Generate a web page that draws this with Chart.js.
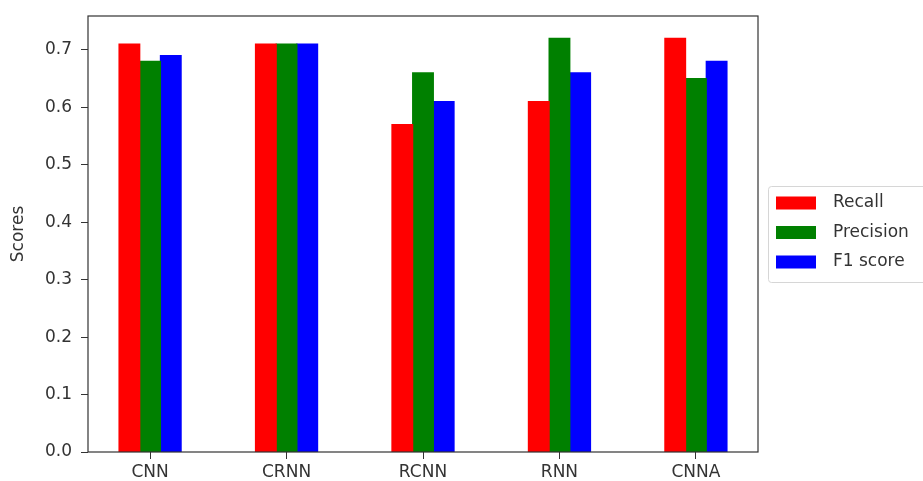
<!DOCTYPE html>
<html>
<head>
<meta charset="utf-8">
<script src="https://cdn.jsdelivr.net/npm/chart.js@4/dist/chart.umd.min.js"></script>
<style>
  html, body { margin: 0; padding: 0; background: #fff; }
  canvas { display: block; }
</style>
</head>
<body>
<canvas id="scoresChart" width="923" height="481"></canvas>
<script>
const categories = ["CNN", "CRNN", "RCNN", "RNN", "CNNA"];
const recall = [0.71, 0.71, 0.57, 0.61, 0.72];
const precision = [0.68, 0.71, 0.66, 0.72, 0.65];
const f1Score = [0.69, 0.71, 0.61, 0.66, 0.68];
const yTicks = [0, 0.1, 0.2, 0.3, 0.4, 0.5, 0.6, 0.7];

const seriesNames = ["Recall", "Precision", "F1 score"];
const seriesColors = ["#ff0000", "#008000", "#0000ff"];

const textColor = "#333";
const axisColor = "#333";
const fontFamily = "'DejaVu Sans', sans-serif";

function toPoints(values) {
  return values.map((v, i) => ({ x: i, y: v }));
}

// box around the plot area (all four spines) + legend outside on the right
const framePlugin = {
  id: "frame",
  afterDraw(chart) {
    const { ctx, chartArea } = chart;
    ctx.save();
    ctx.strokeStyle = axisColor;
    ctx.lineWidth = 1.2;
    ctx.strokeRect(chartArea.left, chartArea.top, chartArea.right - chartArea.left, chartArea.bottom - chartArea.top);

    // legend
    const boxX = 768.5, boxY = 186.5, boxW = 170, boxH = 96, r = 3;
    ctx.beginPath();
    ctx.moveTo(boxX + r, boxY);
    ctx.lineTo(boxX + boxW - r, boxY);
    ctx.arcTo(boxX + boxW, boxY, boxX + boxW, boxY + r, r);
    ctx.lineTo(boxX + boxW, boxY + boxH - r);
    ctx.arcTo(boxX + boxW, boxY + boxH, boxX + boxW - r, boxY + boxH, r);
    ctx.lineTo(boxX + r, boxY + boxH);
    ctx.arcTo(boxX, boxY + boxH, boxX, boxY + boxH - r, r);
    ctx.lineTo(boxX, boxY + r);
    ctx.arcTo(boxX, boxY, boxX + r, boxY, r);
    ctx.closePath();
    ctx.fillStyle = "rgba(255,255,255,0.8)";
    ctx.fill();
    ctx.strokeStyle = "#d6d6d6";
    ctx.lineWidth = 1;
    ctx.stroke();

    ctx.font = "17px " + fontFamily;
    ctx.textBaseline = "middle";
    ctx.textAlign = "left";
    chart.data.datasets.forEach((ds, i) => {
      const cy = 203 + i * 29.5;
      ctx.fillStyle = ds.backgroundColor;
      ctx.fillRect(776, cy - 6.5, 40, 13);
      ctx.fillStyle = textColor;
      ctx.fillText(ds.label, 833, cy);
    });
    ctx.restore();
  }
};

const ctx = document.getElementById("scoresChart").getContext("2d");

new Chart(ctx, {
  type: "bar",
  data: {
    datasets: [
      { label: seriesNames[0], data: toPoints(recall), backgroundColor: seriesColors[0] },
      { label: seriesNames[1], data: toPoints(precision), backgroundColor: seriesColors[1] },
      { label: seriesNames[2], data: toPoints(f1Score), backgroundColor: seriesColors[2] }
    ]
  },
  options: {
    responsive: false,
    animation: false,
    layout: { padding: { top: 16, right: 165, left: 0, bottom: 0 } },
    datasets: {
      bar: { categoryPercentage: 0.455, barPercentage: 1, borderWidth: 0, inflateAmount: 0.6 }
    },
    plugins: {
      legend: { display: false },
      tooltip: { enabled: false }
    },
    scales: {
      x: {
        type: "linear",
        offset: false,
        min: -0.455,
        max: 4.455,
        afterBuildTicks: (scale) => { scale.ticks = categories.map((c, i) => ({ value: i })); },
        afterFit: (scale) => { scale.height = 29; scale.paddingLeft = 0; scale.paddingRight = 0; },
        grid: { drawOnChartArea: false, drawTicks: true, tickLength: 7, color: axisColor, offset: false },
        border: { display: false },
        ticks: {
          padding: 3,
          color: textColor,
          font: { family: fontFamily, size: 17 },
          maxRotation: 0,
          callback: (v) => categories[v]
        }
      },
      y: {
        min: 0,
        max: 0.759,
        afterBuildTicks: (scale) => { scale.ticks = yTicks.map(v => ({ value: v })); },
        afterFit: (scale) => { scale.width = 88; scale.paddingTop = 0; scale.paddingBottom = 0; },
        grid: { drawOnChartArea: false, drawTicks: true, tickLength: 7, color: axisColor },
        border: { display: false },
        ticks: {
          padding: 9,
          color: textColor,
          font: { family: fontFamily, size: 17 },
          callback: (v) => v.toFixed(1)
        },
        title: {
          display: true,
          text: "Scores",
          color: textColor,
          font: { family: fontFamily, size: 17 },
          padding: { top: 8, bottom: 0 }
        }
      }
    }
  },
  plugins: [framePlugin]
});
</script>
</body>
</html>
